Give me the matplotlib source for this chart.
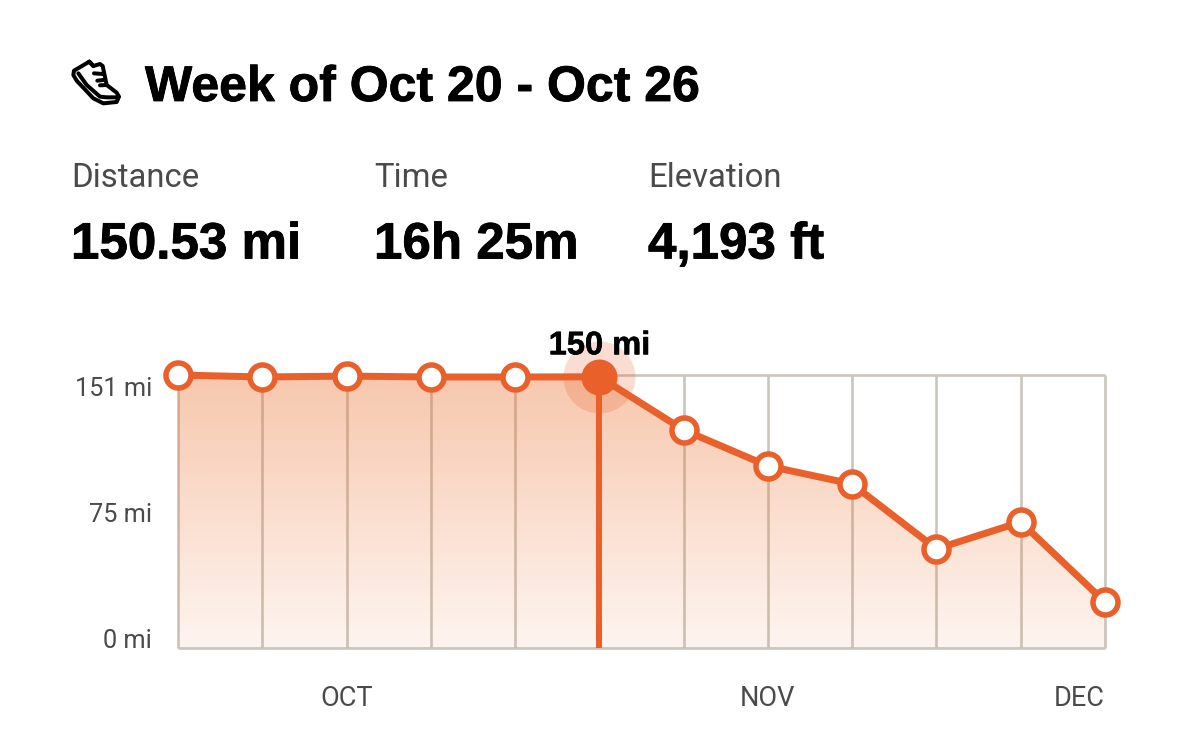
import numpy as np
import matplotlib
matplotlib.use("Agg")
import matplotlib.pyplot as plt
import matplotlib.patheffects as pe
from matplotlib.colors import LinearSegmentedColormap
from matplotlib.patches import Polygon
from matplotlib.transforms import ScaledTranslation

# Weekly distance in miles
weeks = np.arange(12)
miles = [151, 149.9, 150.4, 149.9, 149.9, 150, 120.6, 100.7, 90.7, 54.8, 69.7, 25.4]
y_ticks = [0, 75, 151]
y_labels = ["0 mi", "75 mi", "151 mi"]
month_pos = [2, 7, 11]
month_labels = ["OCT", "NOV", "DEC"]
selected = 5
selected_label = "150 mi"

title = "Week of Oct 20 - Oct 26"
stat_names = ["Distance", "Time", "Elevation"]
stat_values = ["150.53 mi", "16h 25m", "4,193 ft"]
stat_x = [72, 375, 649]

W, H = 1179, 743
ORANGE = "#E9602A"
GRID = "#C9C5BE"
BOLD = "Liberation Sans"
px = 72 / 100  # points per pixel at dpi 100
heavy = [pe.withStroke(linewidth=0.6, foreground="black")]

fig = plt.figure(figsize=(W / 100, H / 100), dpi=100, facecolor="white")

# overlay in pixel coordinates for the header
bg = fig.add_axes([0, 0, 1, 1])
bg.set_xlim(0, W)
bg.set_ylim(H, 0)
bg.axis("off")

bg.text(145, 88, title, family=BOLD, weight="bold", fontsize=36, color="black", va="center", ha="left",
        path_effects=heavy)
for x, name, val in zip(stat_x, stat_names, stat_values):
    bg.text(x - 1, 178, name, family="Roboto", fontsize=23.7, color="#4a4a4a", va="center", ha="left")
    bg.text(x - 1, 245, val, family=BOLD, weight="bold", fontsize=36.8, color="black", va="center", ha="left",
            path_effects=heavy)

# running shoe icon
def icon(xs, ys, closed=False):
    xs = 50 + np.array(xs) / 3
    ys = 40 + np.array(ys) / 3
    if closed:
        xs = np.append(xs, xs[0])
        ys = np.append(ys, ys[0])
    bg.plot(xs, ys, color="black", lw=4 * px, solid_capstyle="round", solid_joinstyle="round")

icon([118, 72, 70, 80, 130, 160, 200, 207, 200, 170, 158, 150, 130],
     [65, 92, 105, 122, 175, 190, 186, 170, 158, 135, 78, 72, 78], closed=True)
icon([85, 110, 150, 170, 205], [100, 135, 170, 172, 172])
icon([130, 118], [78, 65])
icon([132, 158], [100, 102])
icon([142, 160], [122, 120])
icon([150, 170], [136, 135])

# chart area: x 178-1105 px, y 375-648 px
left, right, top, bottom = 178, 1105, 375, 648
ax = fig.add_axes([left / W, 1 - bottom / H, (right - left) / W, (bottom - top) / H])
ax.set_xlim(0, 11)
ax.set_ylim(0, 151)
ax.patch.set_alpha(0)
for s in ax.spines.values():
    s.set_visible(False)
ax.set_yticks(y_ticks)
ax.set_yticklabels(y_labels)
ax.set_xticks(month_pos)
ax.set_xticklabels(month_labels)
ax.tick_params(length=0)
ax.tick_params(axis="y", pad=18.5, labelsize=18.2, labelcolor="#4a4a4a")
ax.tick_params(axis="x", pad=27, labelsize=19.5, labelcolor="#4a4a4a")
for lab in ax.get_xticklabels() + ax.get_yticklabels():
    lab.set_family("Roboto")
ax.get_xticklabels()[-1].set_ha("right")

# top and bottom y labels sit inside the plot range
ylabs = ax.get_yticklabels()
ylabs[0].set_transform(ylabs[0].get_transform() + ScaledTranslation(0, 9 / 100, fig.dpi_scale_trans))
ylabs[2].set_transform(ylabs[2].get_transform() + ScaledTranslation(0, -11 / 100, fig.dpi_scale_trans))

# grid
ax.vlines(weeks, 0, 151, color=GRID, lw=2.6 * px, zorder=1, clip_on=False)
ax.hlines([0, 151], 0, 11, color=GRID, lw=2.6 * px, zorder=1, clip_on=False)

# gradient fill under the line
cmap = LinearSegmentedColormap.from_list("fade", [(0.92, 0.42, 0.15, 0.07), (0.92, 0.42, 0.15, 0.38)])
grad = np.linspace(1, 0, 256).reshape(-1, 1)
img = ax.imshow(grad, extent=[0, 11, 0, 151], cmap=cmap, aspect="auto", zorder=2, vmin=0, vmax=1)
poly = Polygon(list(zip(weeks, miles)) + [(11, 0), (0, 0)], transform=ax.transData, fc="none", ec="none")
ax.add_patch(poly)
img.set_clip_path(poly)

# selected week marker
ax.vlines(weeks[selected], 0, miles[selected], color=ORANGE, lw=6 * px, zorder=3)
ax.plot(weeks, miles, color=ORANGE, lw=7 * px, zorder=4, clip_on=False, solid_joinstyle="round")
ax.plot(weeks[selected], miles[selected], "o", ms=72 * px, color=ORANGE, alpha=0.22, mew=0, zorder=3.5, clip_on=False)

others = [i for i in weeks if i != selected]
ax.plot(weeks[others], np.array(miles)[others], "o", ms=25 * px, mfc="white", mec=ORANGE, mew=5.5 * px,
        ls="none", zorder=5, clip_on=False)
ax.plot(weeks[selected], miles[selected], "o", ms=36 * px, color=ORANGE, mew=0, zorder=5, clip_on=False)

ax.annotate(selected_label, (weeks[selected], miles[selected]), xytext=(0, 31 * px), textcoords="offset points",
            ha="center", va="center", family=BOLD, weight="bold", fontsize=23.5, color="black", zorder=6,
            path_effects=[pe.withStroke(linewidth=0.4, foreground="black")])

fig.savefig("out.png", dpi=100, facecolor="white")
